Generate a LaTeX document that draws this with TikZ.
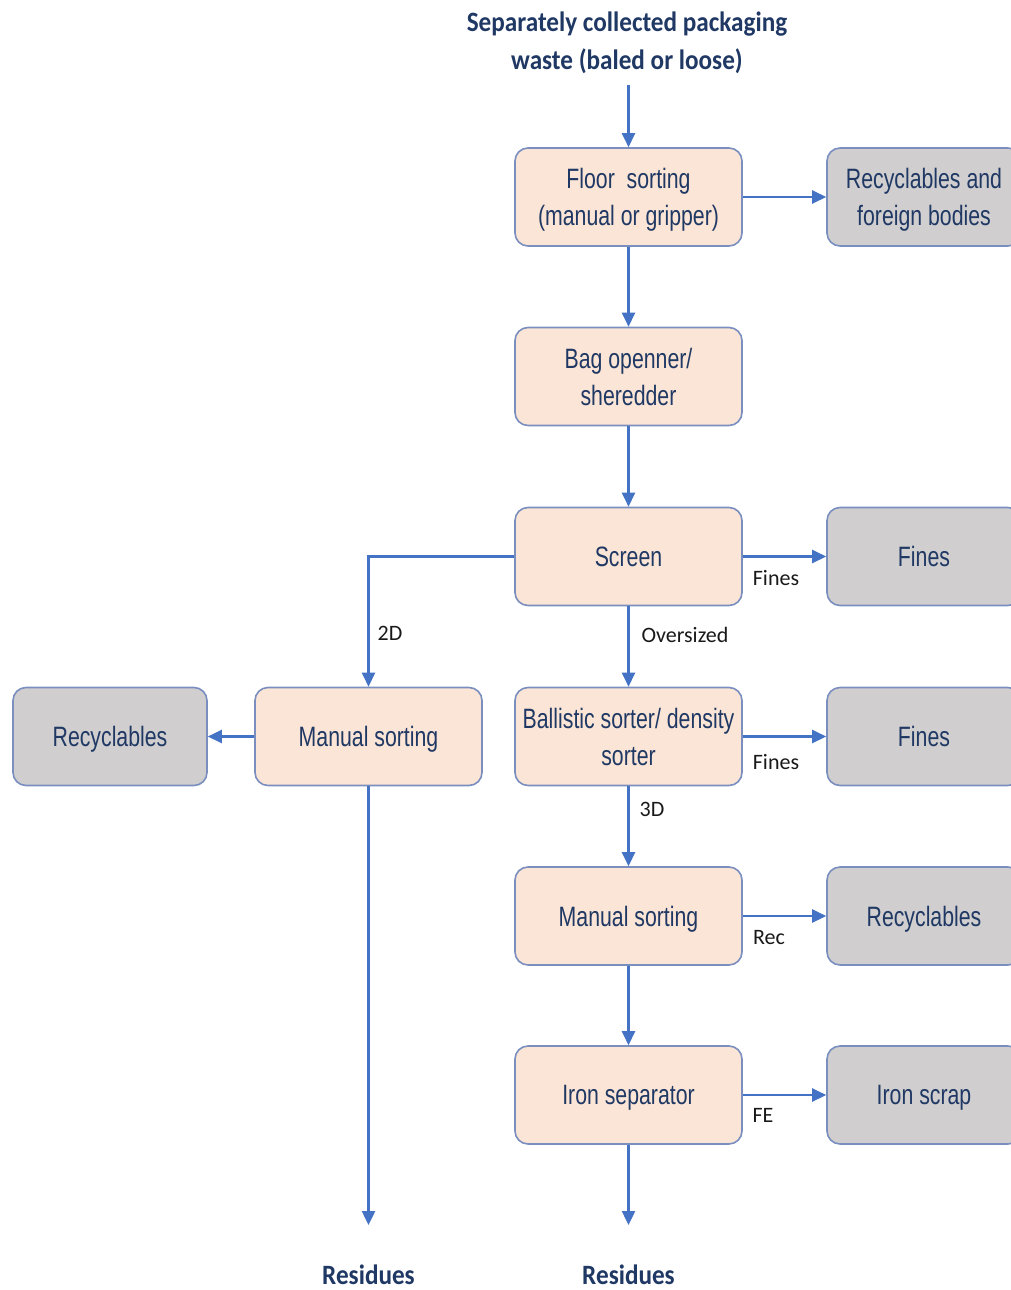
\documentclass[tikz,border=0pt]{standalone}
\usepackage{fontspec}
\setmainfont{Liberation Sans}
\newfontfamily\boxfont[FakeStretch=0.76]{Liberation Sans}
\newfontfamily\lblfont{Carlito}
\newfontfamily\titlefont[FakeStretch=0.9]{Carlito}
\usetikzlibrary{arrows.meta}
\definecolor{navy}{HTML}{1F3864}
\definecolor{peach}{HTML}{FBE5D6}
\definecolor{grayfill}{HTML}{D0CECE}
\definecolor{edge}{HTML}{7A8FBF}
\definecolor{arrowblue}{HTML}{4472C4}
\tikzset{
  procbox/.style={draw=edge, line width=1.6pt, fill=peach, rounded corners=13pt,
    minimum width=227pt, minimum height=98pt, align=center, text=navy,
    font=\boxfont\fontsize{28}{37}\selectfont, inner sep=0pt, text depth=0pt},
  outbox/.style={procbox, fill=grayfill},
  flow/.style={draw=arrowblue, line width=2.4pt, -{Triangle[length=14pt,width=13pt]}},
  lbl/.style={font=\lblfont\fontsize{22}{26}\selectfont, text=black!90, inner sep=0pt},
  ttl/.style={font=\titlefont\bfseries\fontsize{28}{38}\selectfont, text=navy, align=center, inner sep=0pt}
}
\begin{document}
\begin{tikzpicture}[x=1pt,y=-1pt]
\useasboundingbox (0,0) rectangle (1011,1290);
% title
\node[ttl] (title) at (627,43) {Separately collected packaging\\waste (baled or loose)};
\coordinate (src) at (628.5,85);
% main column
\node[procbox] (floor) at (628.5,197) {Floor\ \ sorting\\(manual or gripper)};
\node[procbox] (bag) at (628.5,376.5) {Bag openner/\\sheredder};
\node[procbox] (screen) at (628.5,556.5) {Screen};
\node[procbox] (ball) at (628.5,736.5) {Ballistic sorter/ density\\sorter};
\node[procbox] (man2) at (628.5,916) {Manual sorting};
\node[procbox] (iron) at (628.5,1095) {Iron separator};
% right outputs
\node[outbox, minimum width=194pt] (rec1) at (924,197) {Recyclables and\\foreign bodies};
\node[outbox, minimum width=194pt] (fines1) at (924,556.5) {Fines};
\node[outbox, minimum width=194pt] (fines2) at (924,736.5) {Fines};
\node[outbox, minimum width=194pt] (rec2) at (924,916) {Recyclables};
\node[outbox, minimum width=194pt] (scrap) at (924,1095) {Iron scrap};
% left branch
\node[procbox] (man1) at (368.5,736.5) {Manual sorting};
\node[outbox, minimum width=194pt] (recL) at (110,736.5) {Recyclables};
% residues
\coordinate (res1end) at (368.5,1225);
\coordinate (res2end) at (628.5,1225);
\node[ttl] (res1) at (368.5,1275) {Residues};
\node[ttl] (res2) at (628.5,1275) {Residues};
% connectors
\draw[flow] (src) -- (floor.north);
\draw[flow] (floor) -- (bag);
\draw[flow] (bag) -- (screen);
\draw[flow] (screen) -- (ball);
\draw[flow] (ball) -- (man2);
\draw[flow] (man2) -- (iron);
\draw[flow] (iron) -- (res2end);
\draw[flow] (floor.east) -- (rec1.west);
\draw[flow] (screen.east) -- (fines1.west);
\draw[flow] (ball.east) -- (fines2.west);
\draw[flow] (man2.east) -- (rec2.west);
\draw[flow] (iron.east) -- (scrap.west);
\draw[flow] (screen.west) -| (man1.north);
\draw[flow] (man1.west) -- (recL.east);
\draw[flow] (man1) -- (res1end);
% labels
\node[lbl] (l2d) at (390,633) {2D};
\node[lbl] (lover) at (685,635) {Oversized};
\node[lbl] (lfines1) at (776,578) {Fines};
\node[lbl] (lfines2) at (776,762) {Fines};
\node[lbl] (l3d) at (652,809) {3D};
\node[lbl] (lrec) at (769,938) {Rec};
\node[lbl] (lfe) at (763,1115) {FE};
\end{tikzpicture}
\end{document}
